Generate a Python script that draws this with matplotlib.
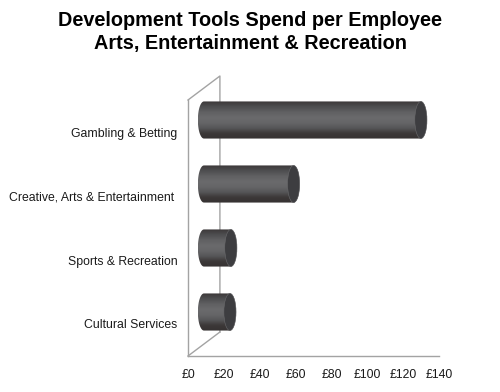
import numpy as np
import matplotlib
matplotlib.use('Agg')
import matplotlib.pyplot as plt
from matplotlib.colors import LinearSegmentedColormap
from matplotlib.path import Path
from matplotlib.patches import PathPatch, Ellipse

plt.rcParams['font.family'] = ['Liberation Sans', 'DejaVu Sans']

categories = ['Gambling & Betting', 'Creative, Arts & Entertainment ', 'Sports & Recreation', 'Cultural Services']
spend = [121, 50, 15, 14.5]
ticks = [0, 20, 40, 60, 80, 100, 120, 140]
title_lines = ['Development Tools Spend per Employee', 'Arts, Entertainment & Recreation']

W, H = 500, 392
fig = plt.figure(figsize=(W / 100, H / 100), dpi=100, facecolor='white')
ax = fig.add_axes([188 / W, 1 - 356 / H, 251 / W, 256 / H])

# depth of the fake 3d box, in data units
depth_x = 17.8
depth_y = 0.375
half_h = 0.29
cap_w = 3.4

ax.set_xlim(0, 140)
ax.set_ylim(4, 0)

wall = '#a3a3a3'
ax.plot([0, depth_x, depth_x], [0, -depth_y, 4 - depth_y], color=wall, lw=1.0, clip_on=False, zorder=1)
ax.plot([0, depth_x], [4, 4 - depth_y], color=wall, lw=1.0, clip_on=False, zorder=1)

cmap = LinearSegmentedColormap.from_list('cyl', ['#3c3838', '#4e4e50', '#606062', '#6a6a6c', '#666668', '#565658', '#3c3838', '#363232'])
grad = np.linspace(0, 1, 64).reshape(-1, 1)
t = np.linspace(-np.pi / 2, np.pi / 2, 40)

for i, val in enumerate(spend):
    yc = i + 0.5 - depth_y / 2
    x0 = depth_x / 2
    x1 = x0 + val
    # outline of the cylinder side: right half ellipse then left half ellipse
    xs = np.concatenate([x1 + cap_w * np.cos(t), x0 - cap_w * np.cos(t[::-1])])
    ys = np.concatenate([yc + half_h * np.sin(t), yc + half_h * np.sin(t[::-1])])
    outline = Path(np.column_stack([xs, ys]))
    patch = PathPatch(outline, facecolor='none', edgecolor='none', transform=ax.transData)
    ax.add_patch(patch)
    im = ax.imshow(grad, extent=(x0 - cap_w, x1 + cap_w, yc + half_h, yc - half_h),
                   cmap=cmap, aspect='auto', zorder=2, interpolation='bilinear')
    im.set_clip_path(patch)
    ax.add_patch(Ellipse((x1, yc), cap_w * 2, half_h * 2, facecolor='#3d3d40', edgecolor='#6a6a6c', lw=0.4, zorder=3))

ax.set_xlim(0, 140)
ax.set_ylim(4, 0)

for s in ['top', 'right']:
    ax.spines[s].set_visible(False)
for s in ['left', 'bottom']:
    ax.spines[s].set_color(wall)
    ax.spines[s].set_linewidth(1.0)

ax.set_xticks(ticks)
ax.set_xticklabels(['£' + str(v) for v in ticks], fontsize=8.8, color='#1a1a1a')
ax.set_yticks([i + 0.5 for i in range(len(categories))])
ax.set_yticklabels(categories, fontsize=8.8, color='#1a1a1a')
ax.tick_params(axis='x', length=0, pad=9)
ax.tick_params(axis='y', length=0, pad=7.5)

fig.text(0.5, 1 - 21 / H, title_lines[0], ha='center', va='center', fontsize=14.3, fontweight='bold', color='black')
fig.text(0.5, 1 - 44 / H, title_lines[1], ha='center', va='center', fontsize=14.3, fontweight='bold', color='black')

fig.savefig('out.png', dpi=100)
